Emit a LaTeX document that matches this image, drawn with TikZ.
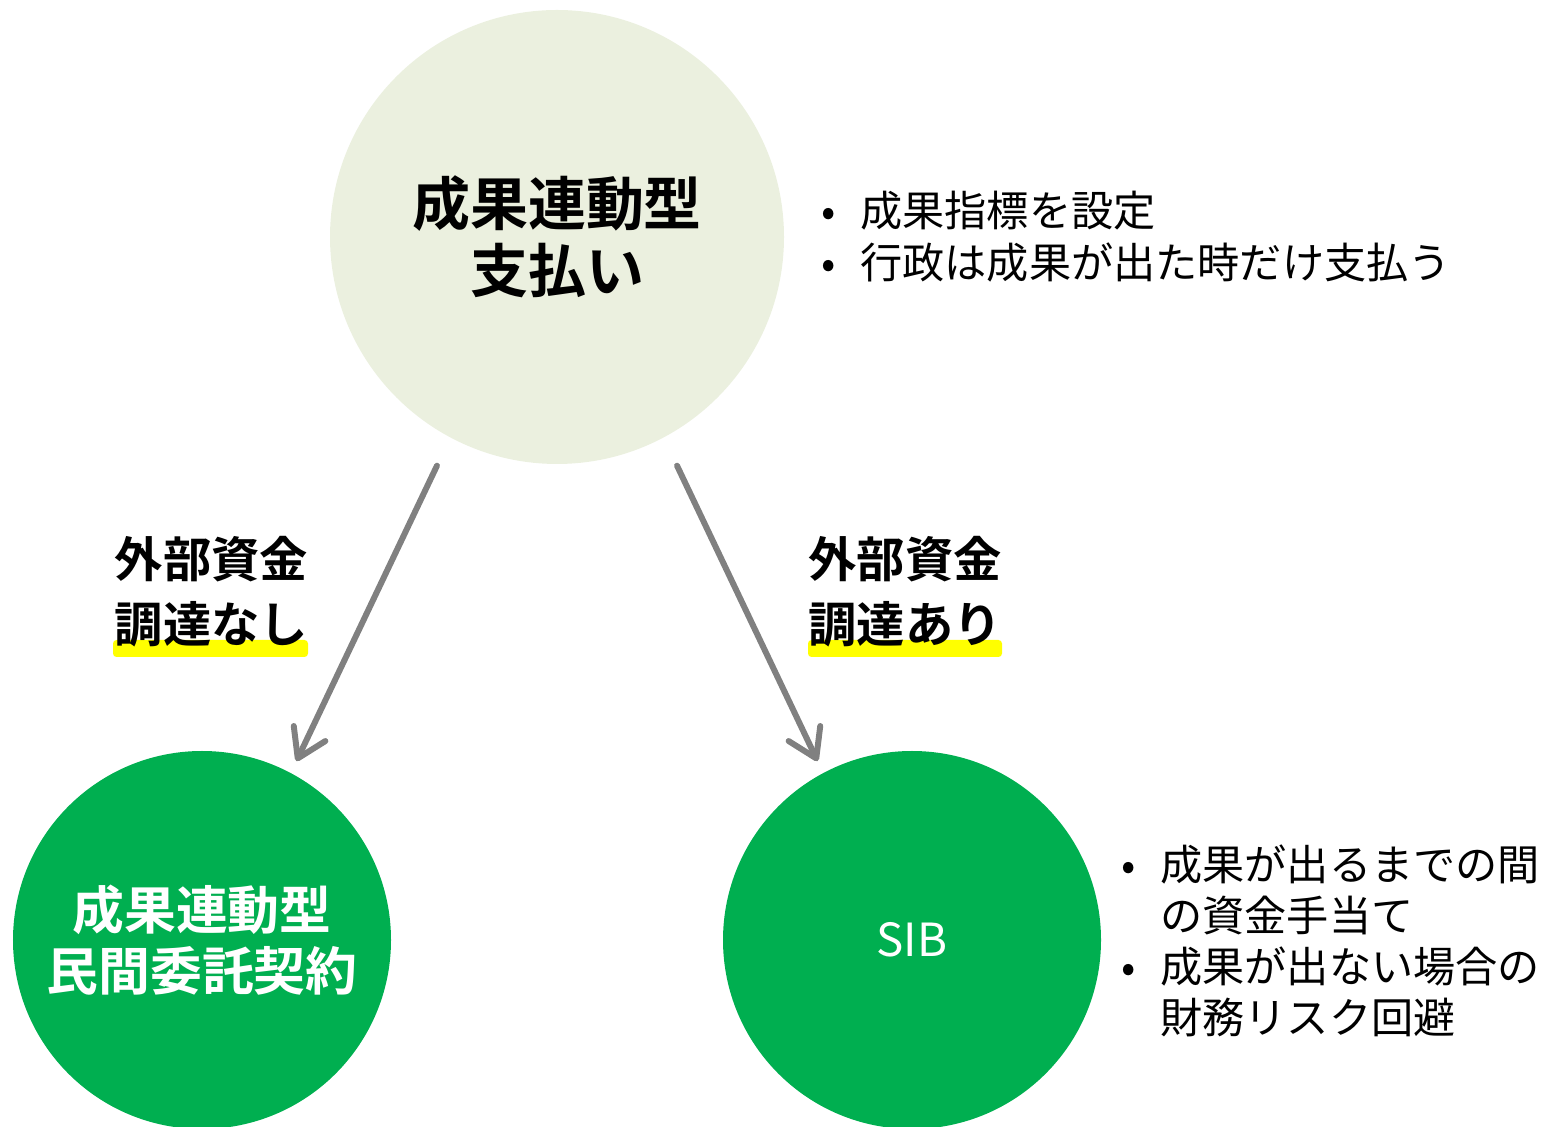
\documentclass[tikz,border=0pt]{standalone}
\usepackage{fontspec}
\setmainfont{Noto Sans CJK JP}[BoldFont={* Bold}]
\usetikzlibrary{arrows.meta}
\definecolor{paleg}{HTML}{EBF0DF}
\definecolor{sibg}{HTML}{00AF50}
\definecolor{arrg}{HTML}{808080}
\definecolor{hil}{HTML}{FFFF00}

\begin{document}
\begin{tikzpicture}[
	ball/.style={circle, inner sep=0pt, align=center},
	flow/.style={draw=arrg, line width=3.4pt, line cap=round, -{Straight Barb[length=0.55cm, width=0.7cm, round]}},
	note/.style={anchor=west, inner sep=0pt, font=\fontsize{24}{29.5}\selectfont},
	tag/.style={align=left, inner sep=0pt, font=\bfseries\fontsize{27.5}{37}\selectfont}
	]
	\useasboundingbox (0,0) rectangle (30.9,22.52);
	
	\node [ball, fill=paleg, minimum size=9.08cm, font=\bfseries\fontsize{33}{38}\selectfont] (t) at (11.14,17.78) {成果連動型\\支払い};
	\node [ball, fill=sibg, text=white, minimum size=7.56cm, font=\bfseries\fontsize{29.5}{35}\selectfont] (l) at (4.04,3.72) {成果連動型\\民間委託契約};
	\node [ball, fill=sibg, text=white, minimum size=7.56cm, font=\fontsize{26}{30}\selectfont] (r) at (18.24,3.72) {SIB};
	
	\draw [flow, shorten <=0.62cm, shorten >=0.26cm] (t.-118) -- (l.62);
	\draw [flow, shorten <=0.62cm, shorten >=0.26cm] (t.-62) -- (r.118);
	
	\fill [hil, rounded corners=2pt] (2.26,9.38) rectangle (6.16,9.72);
	\fill [hil, rounded corners=2pt] (16.16,9.38) rectangle (20.04,9.72);
	\node [tag] (nl) at (4.23,10.68) {外部資金\\調達なし};
	\node [tag] (nr) at (18.10,10.68) {外部資金\\調達あり};
	
	\node [note] (pt) at (16.42,17.68) {\begin{tabular}{@{}l@{}l@{}}
		\makebox[0.78cm][l]{•} & 成果指標を設定\\
		\makebox[0.78cm][l]{•} & 行政は成果が出た時だけ支払う
	\end{tabular}};
	\node [note, font=\fontsize{24}{29}\selectfont] (pr) at (22.42,3.58) {\begin{tabular}{@{}l@{}l@{}}
		\makebox[0.78cm][l]{•} & 成果が出るまでの間\\
		& の資金手当て\\
		\makebox[0.78cm][l]{•} & 成果が出ない場合の\\
		& 財務リスク回避
	\end{tabular}};
\end{tikzpicture}
\end{document}
